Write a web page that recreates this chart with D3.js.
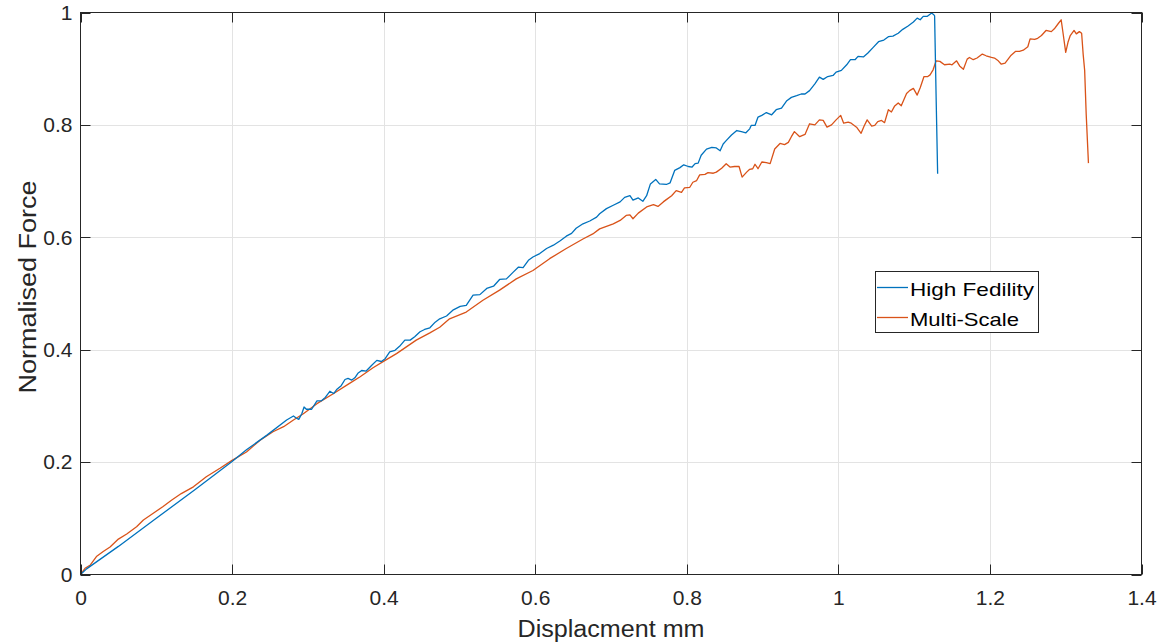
<!DOCTYPE html>
<html>
<head>
<meta charset="utf-8">
<script src="https://cdn.jsdelivr.net/npm/d3@7"></script>
<style>
  html, body { margin: 0; padding: 0; background: #fff; }
  svg { display: block; font-family: "Liberation Sans", Arial, Helvetica, sans-serif; }
</style>
</head>
<body>
<svg id="chart" width="1162" height="644"></svg>
<script>
// ---- data ----
const xTicks = [0, 0.2, 0.4, 0.6, 0.8, 1, 1.2, 1.4];
const yTicks = [0, 0.2, 0.4, 0.6, 0.8, 1];
const seriesNames = ["High Fedility", "Multi-Scale"];

const hfDisp = [0,0.008,0.05,0.1,0.15,0.2,0.219,0.246,0.272,0.281,0.285,0.288,0.292,0.295,0.298,0.305,0.312,0.318,0.323,0.329,0.334,0.338,0.344,0.349,0.353,0.358,0.362,0.366,0.371,0.377,0.384,0.391,0.397,0.402,0.408,0.415,0.421,0.428,0.435,0.441,0.448,0.454,0.461,0.468,0.474,0.483,0.492,0.501,0.509,0.518,0.527,0.536,0.545,0.553,0.562,0.571,0.578,0.584,0.591,0.597,0.606,0.615,0.624,0.633,0.641,0.648,0.654,0.663,0.672,0.681,0.685,0.694,0.703,0.712,0.718,0.725,0.729,0.736,0.742,0.747,0.752,0.759,0.764,0.773,0.778,0.784,0.791,0.796,0.802,0.807,0.811,0.815,0.819,0.826,0.833,0.839,0.844,0.848,0.852,0.859,0.866,0.872,0.878,0.883,0.885,0.890,0.894,0.899,0.905,0.912,0.918,0.925,0.932,0.938,0.945,0.951,0.956,0.962,0.969,0.975,0.980,0.986,0.993,0.997,1.004,1.011,1.016,1.022,1.026,1.033,1.039,1.046,1.053,1.060,1.066,1.072,1.079,1.085,1.092,1.099,1.104,1.108,1.112,1.117,1.121,1.123,1.126,1.127,1.129,1.131];
const hfForce = [0,0.010,0.050,0.100,0.150,0.201,0.222,0.248,0.275,0.282,0.278,0.276,0.286,0.298,0.294,0.294,0.309,0.309,0.315,0.326,0.322,0.329,0.336,0.347,0.349,0.346,0.350,0.358,0.363,0.362,0.372,0.381,0.379,0.384,0.396,0.399,0.406,0.417,0.417,0.423,0.432,0.436,0.439,0.449,0.455,0.460,0.471,0.477,0.479,0.497,0.498,0.509,0.513,0.525,0.526,0.538,0.547,0.546,0.559,0.565,0.571,0.580,0.586,0.594,0.602,0.607,0.616,0.624,0.629,0.636,0.642,0.651,0.657,0.663,0.671,0.674,0.666,0.670,0.664,0.674,0.695,0.703,0.695,0.694,0.697,0.719,0.724,0.729,0.726,0.725,0.731,0.732,0.746,0.757,0.760,0.759,0.754,0.766,0.772,0.782,0.790,0.788,0.786,0.793,0.799,0.799,0.814,0.817,0.822,0.818,0.827,0.830,0.843,0.849,0.852,0.855,0.855,0.861,0.873,0.885,0.881,0.886,0.888,0.894,0.897,0.907,0.916,0.916,0.922,0.921,0.928,0.938,0.948,0.951,0.957,0.958,0.963,0.970,0.976,0.983,0.990,0.987,0.993,0.993,0.997,0.999,0.996,0.994,0.849,0.713];

const msDisp = [0,0.006,0.013,0.021,0.030,0.039,0.050,0.061,0.074,0.083,0.096,0.109,0.120,0.133,0.149,0.166,0.184,0.200,0.219,0.237,0.254,0.268,0.281,0.294,0.312,0.334,0.355,0.369,0.386,0.402,0.417,0.430,0.443,0.461,0.474,0.487,0.509,0.531,0.553,0.575,0.597,0.619,0.641,0.663,0.676,0.685,0.703,0.712,0.720,0.725,0.729,0.736,0.747,0.756,0.762,0.769,0.773,0.780,0.786,0.793,0.797,0.804,0.808,0.813,0.817,0.824,0.828,0.835,0.839,0.846,0.852,0.857,0.863,0.869,0.873,0.879,0.883,0.887,0.890,0.894,0.899,0.905,0.910,0.916,0.923,0.929,0.934,0.938,0.942,0.949,0.956,0.962,0.969,0.975,0.980,0.985,0.991,0.997,1.003,1.007,1.013,1.017,1.024,1.030,1.034,1.038,1.044,1.048,1.052,1.057,1.061,1.066,1.070,1.074,1.079,1.083,1.090,1.094,1.099,1.104,1.108,1.113,1.118,1.121,1.125,1.129,1.134,1.140,1.147,1.150,1.156,1.160,1.165,1.170,1.173,1.178,1.183,1.190,1.195,1.202,1.206,1.211,1.215,1.220,1.224,1.228,1.234,1.239,1.244,1.250,1.253,1.259,1.263,1.268,1.274,1.281,1.285,1.290,1.294,1.296,1.300,1.303,1.306,1.311,1.314,1.318,1.321,1.323,1.325,1.327,1.330];
const msForce = [0,0.011,0.017,0.032,0.041,0.049,0.063,0.072,0.085,0.097,0.109,0.121,0.132,0.144,0.156,0.174,0.189,0.203,0.218,0.239,0.254,0.263,0.275,0.286,0.304,0.322,0.340,0.352,0.368,0.381,0.393,0.405,0.417,0.430,0.440,0.455,0.467,0.488,0.506,0.526,0.541,0.562,0.580,0.597,0.606,0.615,0.624,0.630,0.639,0.640,0.633,0.643,0.654,0.658,0.655,0.663,0.667,0.674,0.683,0.680,0.688,0.689,0.698,0.701,0.711,0.712,0.715,0.714,0.716,0.723,0.731,0.725,0.726,0.726,0.707,0.716,0.721,0.722,0.730,0.722,0.734,0.733,0.731,0.757,0.767,0.765,0.769,0.779,0.788,0.779,0.783,0.802,0.800,0.809,0.808,0.796,0.800,0.809,0.817,0.803,0.805,0.803,0.796,0.785,0.798,0.809,0.798,0.799,0.806,0.808,0.804,0.827,0.823,0.833,0.839,0.834,0.856,0.861,0.865,0.853,0.866,0.886,0.886,0.889,0.898,0.914,0.913,0.907,0.908,0.907,0.914,0.905,0.899,0.917,0.920,0.916,0.919,0.926,0.923,0.920,0.919,0.914,0.908,0.910,0.917,0.924,0.931,0.931,0.933,0.939,0.953,0.952,0.954,0.959,0.968,0.966,0.971,0.980,0.987,0.968,0.929,0.947,0.959,0.968,0.962,0.966,0.963,0.926,0.897,0.820,0.732];

// ---- layout ----
const W = 1162, H = 644;
const L = 80.5, R = 1141.5, T = 12.5, B = 574.5;
const axisColor = "#262626";
const gridColor = "#e3e3e3";
const colors = ["#0072BD", "#D95319"];

const svg = d3.select("#chart");
const x = d3.scaleLinear().domain([0, 1.4]).range([L, R]);
const y = d3.scaleLinear().domain([0, 1]).range([B, T]);

// grid
const g = svg.append("g");
g.selectAll("line.gx").data(xTicks.slice(1, -1)).join("line")
  .attr("x1", d => Math.round(x(d)) + 0.5).attr("x2", d => Math.round(x(d)) + 0.5)
  .attr("y1", T).attr("y2", B).attr("stroke", gridColor).attr("stroke-width", 1);
g.selectAll("line.gy").data(yTicks.slice(1, -1)).join("line")
  .attr("y1", d => Math.round(y(d)) + 0.5).attr("y2", d => Math.round(y(d)) + 0.5)
  .attr("x1", L).attr("x2", R).attr("stroke", gridColor).attr("stroke-width", 1);

// series
const line = d3.line().x(d => x(d[0])).y(d => y(d[1]));
const hf = hfDisp.map((d, i) => [d, hfForce[i]]);
const ms = msDisp.map((d, i) => [d, msForce[i]]);
svg.append("path").datum(ms).attr("d", line).attr("fill", "none")
  .attr("stroke", colors[1]).attr("stroke-width", 1.3).attr("stroke-linejoin", "round");
svg.append("path").datum(hf).attr("d", line).attr("fill", "none")
  .attr("stroke", colors[0]).attr("stroke-width", 1.3).attr("stroke-linejoin", "round");

// box
svg.append("rect").attr("x", L).attr("y", T).attr("width", R - L).attr("height", B - T)
  .attr("fill", "none").attr("stroke", axisColor).attr("stroke-width", 1);

// inward ticks on all four sides
const tk = 10;
const tg = svg.append("g").attr("stroke", axisColor).attr("stroke-width", 1);
xTicks.forEach(d => {
  const px = Math.round(x(d)) + 0.5;
  tg.append("line").attr("x1", px).attr("x2", px).attr("y1", B).attr("y2", B - tk);
  tg.append("line").attr("x1", px).attr("x2", px).attr("y1", T).attr("y2", T + tk);
});
yTicks.forEach(d => {
  const py = Math.round(y(d)) + 0.5;
  tg.append("line").attr("y1", py).attr("y2", py).attr("x1", L).attr("x2", L + tk);
  tg.append("line").attr("y1", py).attr("y2", py).attr("x1", R).attr("x2", R - tk);
});

// tick labels via d3 axes
const fmt = d => String(d);
const xAxis = svg.append("g").attr("transform", `translate(0,${B})`)
  .call(d3.axisBottom(x).tickValues(xTicks).tickFormat(fmt).tickSize(0).tickPadding(16));
const yAxis = svg.append("g").attr("transform", `translate(${L},0)`)
  .call(d3.axisLeft(y).tickValues(yTicks).tickFormat(fmt).tickSize(0).tickPadding(8));
[xAxis, yAxis].forEach(a => {
  a.select(".domain").remove();
  a.selectAll("text").attr("fill", axisColor).style("font-size", "21px")
    .style("font-family", "'Liberation Sans', Arial, sans-serif");
});

// axis labels
svg.append("text").attr("x", 611).attr("y", 636.5).attr("text-anchor", "middle")
  .attr("fill", axisColor).style("font-size", "23px")
  .attr("textLength", 187).attr("lengthAdjust", "spacingAndGlyphs")
  .text("Displacment mm");
svg.append("text").attr("transform", "translate(36,287) rotate(-90)").attr("text-anchor", "middle")
  .attr("fill", axisColor).style("font-size", "23px")
  .attr("textLength", 213).attr("lengthAdjust", "spacingAndGlyphs")
  .text("Normalised Force");

// legend
const lg = svg.append("g");
lg.append("rect").attr("x", 875.5).attr("y", 271.5).attr("width", 163).attr("height", 61)
  .attr("fill", "#fff").attr("stroke", axisColor).attr("stroke-width", 1);
const rowsY = [287.5, 317.5];
const textLens = [124, 109];
seriesNames.forEach((name, i) => {
  lg.append("line").attr("x1", 877).attr("x2", 908).attr("y1", rowsY[i]).attr("y2", rowsY[i])
    .attr("stroke", colors[i]).attr("stroke-width", 1.3);
  lg.append("text").attr("x", 910).attr("y", rowsY[i] + 8.5).attr("fill", "#000")
    .style("font-size", "19px")
    .attr("textLength", textLens[i]).attr("lengthAdjust", "spacingAndGlyphs")
    .text(name);
});
</script>
</body>
</html>
